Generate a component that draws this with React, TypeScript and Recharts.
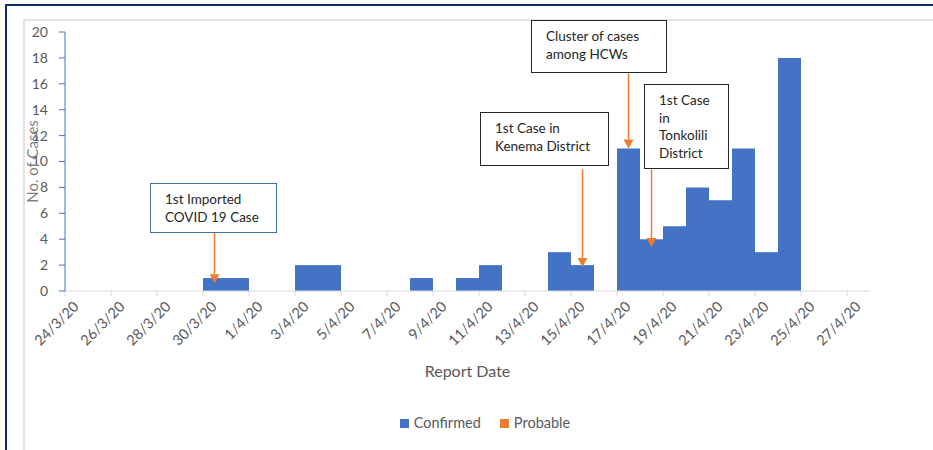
import React from "react";
import {
  BarChart,
  Bar,
  XAxis,
  YAxis,
  Legend,
  ReferenceLine,
} from "recharts";

// daily report dates, 24/3/20 .. 27/4/20
const dates = [
  "24/3/20", "25/3/20", "26/3/20", "27/3/20", "28/3/20", "29/3/20", "30/3/20", "31/3/20",
  "1/4/20", "2/4/20", "3/4/20", "4/4/20", "5/4/20", "6/4/20", "7/4/20", "8/4/20",
  "9/4/20", "10/4/20", "11/4/20", "12/4/20", "13/4/20", "14/4/20", "15/4/20", "16/4/20",
  "17/4/20", "18/4/20", "19/4/20", "20/4/20", "21/4/20", "22/4/20", "23/4/20", "24/4/20",
  "25/4/20", "26/4/20", "27/4/20",
];
const confirmed = [
  0, 0, 0, 0, 0, 0, 1, 1,
  0, 0, 2, 2, 0, 0, 0, 1,
  0, 1, 2, 0, 0, 3, 2, 0,
  11, 4, 5, 8, 7, 11, 3, 18,
  0, 0, 0,
];
const probable = dates.map(() => 0);
const tickDays = [0, 2, 4, 6, 8, 10, 12, 14, 16, 18, 20, 22, 24, 26, 28, 30, 32, 34];
const yTicks = [0, 2, 4, 6, 8, 10, 12, 14, 16, 18, 20];

// annotation arrows: date pointed at, arrow start / tip in case units
const notes = [
  { date: "30/3/20", text: ["1st Imported", "COVID 19 Case"], from: 4.5, to: 0.6 },
  { date: "15/4/20", text: ["1st Case in", "Kenema District"], from: 9.4, to: 1.85 },
  { date: "17/4/20", text: ["Cluster of cases", "among HCWs"], from: 16.8, to: 11 },
  { date: "18/4/20", text: ["1st Case", "in", "Tonkolili", "District"], from: 9.4, to: 3.4 },
];

// where each note box sits on the page
const boxLayout = [
  { left: 150, top: 183, width: 127, height: 50, border: "#41719C" },
  { left: 480, top: 112, width: 129, height: 54, border: "#262626" },
  { left: 531, top: 20, width: 136, height: 53, border: "#262626" },
  { left: 644, top: 84, width: 85, height: 85, border: "#262626" },
];

const data = dates.map((d, i) => ({
  date: d,
  idx: i,
  confirmed: confirmed[i],
  probable: probable[i],
}));

const FONT = "Lato, 'Open Sans', sans-serif";
const BLUE = "#4472C4";
const ORANGE = "#ED7D31";
const GREY = "#595959";

const DateTick = (props: any) => {
  const { x, y, payload } = props;
  return (
    <g transform={`translate(${x + 11},${y + 8})`}>
      <text
        textAnchor="end"
        transform="rotate(-45)"
        fontSize={14.5}
        fill={GREY}
        dy="0.35em"
      >
        {dates[payload.value]}
      </text>
    </g>
  );
};

const ArrowShape = (p: any) => {
  const { x1, y1, x2, y2 } = p;
  const h = 9;
  const w = 5;
  return (
    <g>
      <line x1={x1} y1={y1} x2={x2} y2={y2 - h} stroke={ORANGE} strokeWidth={1.5} />
      <polygon
        points={`${x2 - w},${y2 - h} ${x2 + w},${y2 - h} ${x2},${y2}`}
        fill={ORANGE}
      />
    </g>
  );
};

const LegendContent = () => (
  <div
    style={{
      display: "flex",
      justifyContent: "center",
      gap: 19,
      paddingLeft: 37,
      fontSize: 14.5,
      color: GREY,
      lineHeight: "20px",
      fontFamily: FONT,
    }}
  >
    {[
      { name: "Confirmed", color: BLUE },
      { name: "Probable", color: ORANGE },
    ].map((s) => (
      <span key={s.name} style={{ display: "flex", alignItems: "center" }}>
        <span
          style={{
            width: 9,
            height: 9,
            background: s.color,
            marginRight: 5,
            display: "inline-block",
          }}
        />
        {s.name}
      </span>
    ))}
  </div>
);

export default function App() {
  return (
    <div
      style={{
        position: "fixed",
        left: 0,
        top: 0,
        width: 933,
        height: 450,
        background: "#fff",
        fontFamily: FONT,
      }}
    >
      {/* slide frame */}
      <div
        style={{
          position: "absolute",
          left: 5,
          top: 4,
          width: 928,
          height: 446,
          borderLeft: "2px solid #0E2C6E",
          borderTop: "2px solid #0E2C6E",
        }}
      />
      <div
        style={{
          position: "absolute",
          left: 23,
          top: 19,
          width: 910,
          height: 431,
          borderLeft: "2px solid #E2E2E2",
          borderTop: "2px solid #E2E2E2",
        }}
      />

      <div style={{ position: "absolute", left: 0, top: 0 }}>
        <BarChart
          width={933}
          height={450}
          data={data}
          margin={{ top: 32, right: 63, bottom: 17, left: 0 }}
          barCategoryGap={0}
          barGap={0}
          style={{ fontFamily: FONT }}
        >
          <XAxis
            xAxisId="num"
            dataKey="idx"
            type="number"
            domain={[0, 35]}
            allowDataOverflow
            ticks={tickDays}
            interval={0}
            height={122}
            tick={<DateTick />}
            tickSize={5}
            tickMargin={0}
            axisLine={{ stroke: "#D9D9D9" }}
            tickLine={{ stroke: "#D9D9D9" }}
            label={{
              value: "Report Date",
              position: "insideBottom",
              offset: 36,
              fill: GREY,
              fontSize: 16,
            }}
          />
          <XAxis xAxisId="cat" dataKey="date" type="category" height={0} hide />
          <YAxis
            width={65}
            domain={[0, 20]}
            ticks={yTicks}
            interval={0}
            tick={{ fill: GREY, fontSize: 14 }}
            tickSize={6}
            tickMargin={11}
            axisLine={{ stroke: BLUE }}
            tickLine={{ stroke: BLUE }}
            label={{
              value: "No. of Cases",
              angle: -90,
              position: "center",
              fill: "#7F7F7F",
              fontSize: 15,
            }}
          />
          <Legend verticalAlign="bottom" wrapperStyle={{ left: 0, width: 933 }} content={<LegendContent />} />
          <Bar
            xAxisId="cat"
            dataKey="confirmed"
            name="Confirmed"
            stackId="a"
            fill={BLUE}
            isAnimationActive={false}
          />
          <Bar
            xAxisId="cat"
            dataKey="probable"
            name="Probable"
            stackId="a"
            fill={ORANGE}
            isAnimationActive={false}
          />
          {notes.map((n) => (
            <ReferenceLine
              key={n.date}
              xAxisId="cat"
              segment={[
                { x: n.date, y: n.from },
                { x: n.date, y: n.to },
              ]}
              shape={ArrowShape}
            />
          ))}
        </BarChart>
      </div>

      {notes.map((n, i) => {
        const b = boxLayout[i];
        return (
          <div
            key={n.date}
            style={{
              position: "absolute",
              left: b.left,
              top: b.top,
              width: b.width,
              height: b.height,
              boxSizing: "border-box",
              border: `1.5px solid ${b.border}`,
              background: "#fff",
              padding: "7px 0 0 14px",
              fontSize: 13.5,
              lineHeight: "17.5px",
              color: "#262626",
            }}
          >
            {n.text.map((t) => (
              <div key={t}>{t}</div>
            ))}
          </div>
        );
      })}
    </div>
  );
}
